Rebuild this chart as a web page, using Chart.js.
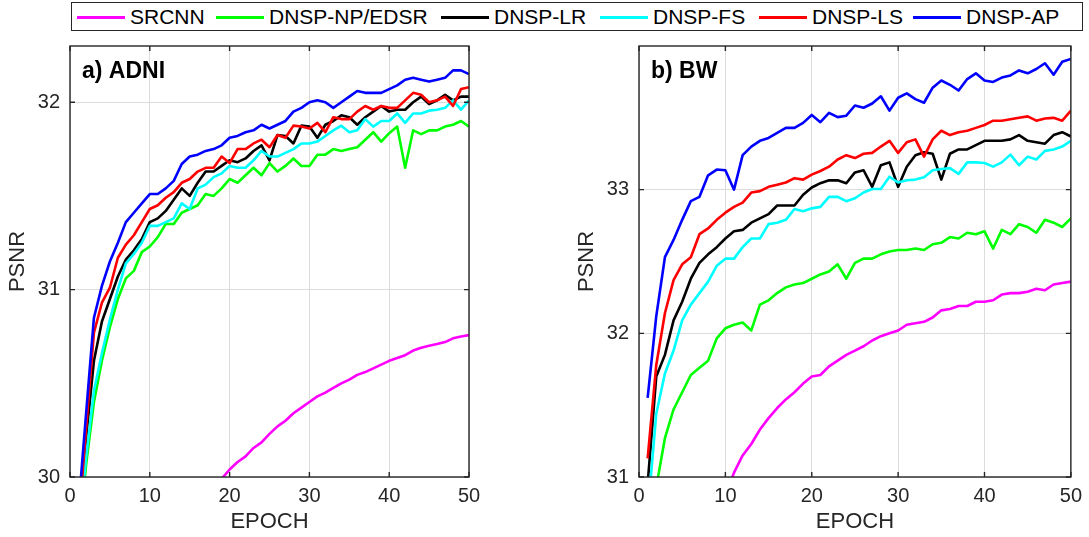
<!DOCTYPE html>
<html>
<head>
<meta charset="utf-8">
<script src="https://cdn.jsdelivr.net/npm/chart.js@4"></script>
<style>
  html, body { margin:0; padding:0; background:#fff; }
  body { width:1089px; height:537px; position:relative; overflow:hidden; font-family:"Liberation Sans", Arial, sans-serif; }
  #legend { position:absolute; left:71px; top:2px; width:1010px; height:27px; border:1.5px solid #262626; background:#fff; }
  .lg-line { position:absolute; top:13px; height:3px; width:48px; }
  .lg-text { position:absolute; top:2px; font-size:21px; line-height:24px; color:#000; white-space:nowrap; }
  canvas { position:absolute; top:0; }
</style>
</head>
<body>
<div id="legend"></div>
<canvas id="cA" width="545" height="537" style="left:0px;width:545px;height:537px"></canvas>
<canvas id="cB" width="544" height="537" style="left:545px;width:544px;height:537px"></canvas>
<script>
// ---------- data ----------
const seriesNames = ["SRCNN", "DNSP-NP/EDSR", "DNSP-LR", "DNSP-FS", "DNSP-LS", "DNSP-AP"];
const seriesColors = ["#ff00ff", "#00ff00", "#000000", "#00ffff", "#ff0000", "#0000ff"];
const epochs = Array.from({length: 50}, (_, i) => i + 1);
const xTicks = [0, 10, 20, 30, 40, 50];
const yTicksA = [30, 31, 32];
const yTicksB = [31, 32, 33];

// a) ADNI
const adniSRCNN = [27.3,27.9,28.25,28.5,28.7,28.87,29.0,29.12,29.23,29.33,29.42,29.5,29.58,29.65,29.72,29.79,29.85,29.94,29.99,30.04,
  30.08,30.11,30.155,30.185,30.23,30.27,30.30,30.34,30.37,30.40,30.43,30.45,30.475,30.50,30.52,30.545,30.56,30.58,30.60,30.62,
  30.635,30.65,30.675,30.69,30.70,30.71,30.72,30.74,30.75,30.757];
const adniNP = [29.6,30.06,30.40,30.62,30.80,30.95,31.06,31.10,31.20,31.23,31.28,31.35,31.35,31.41,31.43,31.45,31.51,31.50,31.54,31.59,
  31.57,31.61,31.65,31.61,31.675,31.63,31.66,31.70,31.66,31.66,31.72,31.72,31.75,31.74,31.75,31.76,31.80,31.84,31.79,31.835,
  31.87,31.65,31.85,31.83,31.85,31.85,31.87,31.88,31.90,31.87];
const adniLR = [29.70,30.20,30.62,30.83,30.95,31.07,31.16,31.21,31.27,31.36,31.38,31.42,31.48,31.54,31.50,31.57,31.63,31.63,31.66,31.69,
  31.68,31.70,31.74,31.77,31.69,31.825,31.82,31.78,31.875,31.87,31.81,31.88,31.90,31.93,31.92,31.88,31.92,31.95,31.98,31.95,
  31.96,31.96,32.00,32.03,31.99,32.01,32.04,32.01,32.03,32.03];
const adniFS = [29.67,30.10,30.46,30.66,30.84,31.00,31.14,31.19,31.25,31.34,31.34,31.36,31.38,31.46,31.43,31.54,31.56,31.60,31.62,31.66,
  31.65,31.65,31.69,31.74,31.71,31.71,31.73,31.75,31.78,31.78,31.79,31.82,31.85,31.875,31.84,31.85,31.91,31.87,31.90,31.90,
  31.94,31.89,31.94,31.94,31.955,31.96,31.97,32.01,31.96,32.01];
const adniLS = [29.71,30.25,30.77,30.93,31.01,31.17,31.24,31.29,31.36,31.43,31.45,31.49,31.52,31.57,31.59,31.63,31.65,31.65,31.71,31.675,
  31.75,31.75,31.78,31.80,31.76,31.825,31.81,31.875,31.87,31.86,31.89,31.84,31.92,31.91,31.91,31.95,31.98,31.96,31.98,31.97,
  31.97,32.01,32.05,32.04,32.00,32.01,32.03,31.98,32.07,32.08];
const adniAP = [29.80,30.33,30.85,31.02,31.15,31.25,31.36,31.41,31.46,31.51,31.51,31.54,31.58,31.67,31.71,31.72,31.74,31.75,31.77,31.81,
  31.82,31.84,31.85,31.88,31.86,31.88,31.90,31.95,31.97,32.00,32.01,32.00,31.97,32.00,32.03,32.06,32.05,32.05,32.05,32.07,
  32.09,32.12,32.13,32.12,32.11,32.12,32.13,32.17,32.17,32.15];

// b) BW
const bwSRCNN = [28.9,29.4,29.75,30.0,30.2,30.38,30.52,30.65,30.76,30.87,31.03,31.15,31.23,31.33,31.41,31.48,31.54,31.59,31.65,31.70,
  31.71,31.77,31.81,31.85,31.88,31.91,31.95,31.98,32.00,32.02,32.06,32.07,32.08,32.11,32.16,32.17,32.19,32.19,32.22,32.22,
  32.23,32.27,32.28,32.28,32.29,32.31,32.30,32.34,32.35,32.36];
const bwNP = [30.55,30.93,31.27,31.47,31.59,31.71,31.76,31.81,31.965,32.035,32.06,32.075,32.02,32.20,32.23,32.28,32.32,32.34,32.35,32.38,
  32.41,32.43,32.48,32.38,32.49,32.52,32.52,32.55,32.57,32.58,32.58,32.59,32.58,32.62,32.63,32.67,32.66,32.70,32.69,32.71,
  32.59,32.72,32.69,32.76,32.74,32.70,32.79,32.77,32.74,32.80];
const bwLR = [30.95,31.70,31.85,32.09,32.22,32.38,32.49,32.55,32.60,32.66,32.71,32.72,32.77,32.80,32.83,32.89,32.89,32.89,32.965,33.015,
  33.045,33.065,33.065,33.045,33.12,33.135,33.02,33.17,33.19,33.02,33.16,33.24,33.26,33.25,33.07,33.25,33.28,33.28,33.31,33.34,
  33.34,33.34,33.35,33.38,33.34,33.33,33.32,33.38,33.40,33.37];
const bwFS = [30.74,31.44,31.72,31.88,32.09,32.20,32.28,32.36,32.47,32.52,32.52,32.60,32.66,32.66,32.76,32.77,32.79,32.865,32.85,32.87,
  32.88,32.95,32.95,32.92,32.94,32.98,33.005,33.005,33.09,33.05,33.065,33.07,33.086,33.135,33.144,33.15,33.11,33.19,33.19,33.186,
  33.16,33.19,33.244,33.17,33.23,33.21,33.27,33.28,33.30,33.34];
const bwLS = [31.13,31.78,32.14,32.37,32.48,32.53,32.69,32.73,32.79,32.84,32.88,32.91,32.98,32.99,33.02,33.035,33.05,33.08,33.07,33.105,
  33.13,33.16,33.21,33.24,33.22,33.25,33.256,33.30,33.34,33.256,33.33,33.35,33.23,33.35,33.41,33.38,33.40,33.41,33.43,33.45,
  33.48,33.48,33.49,33.50,33.51,33.48,33.495,33.50,33.48,33.55];
const bwAP = [31.55,32.12,32.53,32.65,32.79,32.92,32.95,33.10,33.14,33.135,33.00,33.24,33.30,33.34,33.36,33.395,33.43,33.43,33.465,33.52,
  33.47,33.535,33.505,33.515,33.586,33.57,33.60,33.65,33.55,33.64,33.67,33.63,33.605,33.71,33.76,33.73,33.69,33.77,33.81,33.76,
  33.75,33.78,33.795,33.83,33.81,33.84,33.88,33.80,33.89,33.91];

// ---------- legend (HTML) ----------
const legendTextX = [58, 197, 422, 581, 740, 894];
const lg = document.getElementById('legend');
seriesNames.forEach((n, i) => {
  const l = document.createElement('div');
  l.className = 'lg-line'; l.style.left = (legendTextX[i] - 53) + 'px'; l.style.background = seriesColors[i];
  lg.appendChild(l);
  const t = document.createElement('div');
  t.className = 'lg-text'; t.style.left = legendTextX[i] + 'px'; t.textContent = n;
  lg.appendChild(t);
});

// ---------- chart helpers ----------
const FONT = '"Liberation Sans", Arial, sans-serif';
const AXIS_COL = '#262626';

function makeDatasets(arrs) {
  return arrs.map((arr, i) => ({
    label: seriesNames[i],
    data: arr.map((v, k) => ({x: epochs[k], y: v})),
    borderColor: seriesColors[i],
    backgroundColor: seriesColors[i],
    borderWidth: 2.6,
    pointRadius: 0,
    tension: 0,
    fill: false,
    clip: 0,
    borderJoinStyle: 'round',
    order: arrs.length - i
  }));
}

const framePlugin = {
  id: 'frame',
  afterDraw(chart, args, opts) {
    const {ctx, chartArea: a, scales} = chart;
    ctx.save();
    ctx.fillStyle = '#000';
    ctx.font = 'bold 23px ' + FONT;
    ctx.textBaseline = 'alphabetic';
    ctx.textAlign = 'left';
    ctx.fillText(opts.label, a.left + 12, a.top + 32);
    ctx.strokeStyle = AXIS_COL;
    ctx.lineWidth = 1.4;
    ctx.strokeRect(a.left, a.top, a.right - a.left, a.bottom - a.top);
    const tl = 5;
    ctx.beginPath();
    scales.x.ticks.forEach(t => {
      const px = scales.x.getPixelForValue(t.value);
      ctx.moveTo(px, a.bottom); ctx.lineTo(px, a.bottom - tl);
      ctx.moveTo(px, a.top); ctx.lineTo(px, a.top + tl);
    });
    scales.y.ticks.forEach(t => {
      const py = scales.y.getPixelForValue(t.value);
      ctx.moveTo(a.left, py); ctx.lineTo(a.left + tl, py);
      ctx.moveTo(a.right, py); ctx.lineTo(a.right - tl, py);
    });
    ctx.stroke();
    ctx.restore();
  }
};

function makeChart(id, arrs, yMin, yMax, yTicks, label, yAxisWidth, padRight, yTitlePad) {
  return new Chart(document.getElementById(id), {
    type: 'line',
    data: { datasets: makeDatasets(arrs) },
    options: {
      responsive: false,
      animation: false,
      devicePixelRatio: 1,
      events: [],
      layout: { padding: { top: 46, right: padRight, left: 0, bottom: 0 } },
      plugins: { legend: { display: false }, tooltip: { enabled: false }, frame: { label } },
      scales: {
        x: {
          type: 'linear', min: 0, max: 50,
          afterBuildTicks: s => { s.ticks = xTicks.map(v => ({value: v})); },
          afterFit: s => { s.height = 60; },
          grid: { color: '#dcdcdc', lineWidth: 1, drawTicks: false },
          border: { display: false },
          ticks: { color: AXIS_COL, font: { family: FONT, size: 20 }, padding: 7, maxRotation: 0 },
          title: { display: true, text: 'EPOCH', color: AXIS_COL, font: { family: FONT, size: 22 }, padding: { top: 0, bottom: 2 } }
        },
        y: {
          type: 'linear', min: yMin, max: yMax,
          afterBuildTicks: s => { s.ticks = yTicks.map(v => ({value: v})); },
          afterFit: s => { s.width = yAxisWidth; },
          grid: { color: '#dcdcdc', lineWidth: 1, drawTicks: false },
          border: { display: false },
          ticks: { color: AXIS_COL, font: { family: FONT, size: 20 }, padding: 10 },
          title: { display: true, text: 'PSNR', color: AXIS_COL, font: { family: FONT, size: 22 }, padding: { top: yTitlePad, bottom: 0 } }
        }
      }
    },
    plugins: [framePlugin]
  });
}

makeChart('cA', [adniSRCNN, adniNP, adniLR, adniFS, adniLS, adniAP], 30, 32.3, yTicksA, 'a) ADNI', 70, 76, 5);
makeChart('cB', [bwSRCNN, bwNP, bwLR, bwFS, bwLS, bwAP], 31, 34, yTicksB, 'b) BW', 94, 18, 29);
</script>
</body>
</html>
